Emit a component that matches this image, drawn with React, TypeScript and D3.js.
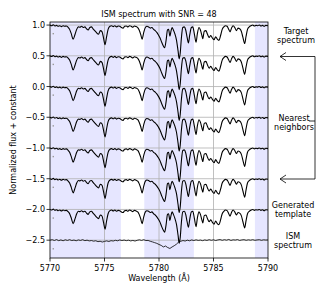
import * as d3 from 'd3';

// stellar profile knots: [wavelength, flux relative to continuum]
const starProfile: [number, number][] = [
  [5770.0, 0.0], [5770.15, -0.01], [5770.3, 0.005], [5770.45, -0.015], [5770.6, -0.005],
  [5770.75, -0.02], [5770.9, -0.01], [5771.05, -0.025], [5771.2, -0.01], [5771.35, -0.02],
  [5771.5, -0.015], [5771.65, -0.035], [5771.8, -0.07], [5771.95, -0.14], [5772.12, -0.23],
  [5772.3, -0.15], [5772.45, -0.07], [5772.6, -0.03], [5772.75, -0.035], [5772.9, -0.02],
  [5773.05, -0.04], [5773.2, -0.03], [5773.35, -0.06], [5773.5, -0.08], [5773.65, -0.04],
  [5773.8, -0.03], [5773.95, -0.06], [5774.1, -0.09], [5774.25, -0.12], [5774.45, -0.15],
  [5774.62, -0.09], [5774.78, -0.11], [5774.92, -0.22], [5775.05, -0.32], [5775.18, -0.2],
  [5775.33, -0.07], [5775.5, -0.02], [5775.65, -0.01], [5775.8, -0.025], [5775.95, -0.01],
  [5776.1, -0.03], [5776.25, -0.015], [5776.4, -0.02], [5776.55, -0.04], [5776.7, -0.05],
  [5776.85, -0.02], [5777.0, -0.015], [5777.15, -0.03], [5777.3, -0.01], [5777.45, -0.02],
  [5777.6, -0.035], [5777.75, -0.015], [5777.9, -0.025], [5778.05, -0.04], [5778.18, -0.08],
  [5778.32, -0.15], [5778.45, -0.23], [5778.6, -0.12], [5778.75, -0.04], [5778.9, -0.02],
  [5779.05, -0.03], [5779.2, -0.05], [5779.35, -0.04], [5779.5, -0.07], [5779.65, -0.09],
  [5779.8, -0.12], [5779.95, -0.16], [5780.1, -0.21], [5780.25, -0.28], [5780.4, -0.34],
  [5780.52, -0.37], [5780.65, -0.25], [5780.78, -0.08], [5780.88, -0.07], [5781.0, -0.18],
  [5781.1, -0.1], [5781.2, -0.04], [5781.32, -0.08], [5781.45, -0.14], [5781.6, -0.24],
  [5781.75, -0.42], [5781.85, -0.55], [5781.95, -0.45], [5782.05, -0.22], [5782.18, -0.04],
  [5782.32, -0.03], [5782.45, -0.08], [5782.58, -0.2], [5782.7, -0.29], [5782.82, -0.16],
  [5782.97, -0.04], [5783.1, -0.03], [5783.25, -0.15], [5783.4, -0.28], [5783.52, -0.14],
  [5783.67, -0.04], [5783.8, -0.08], [5783.92, -0.16], [5784.02, -0.22], [5784.15, -0.1],
  [5784.3, -0.09], [5784.45, -0.15], [5784.6, -0.2], [5784.75, -0.17], [5784.9, -0.21],
  [5785.05, -0.24], [5785.2, -0.19], [5785.35, -0.23], [5785.5, -0.25], [5785.65, -0.17],
  [5785.8, -0.07], [5785.95, -0.03], [5786.1, -0.01], [5786.25, -0.02], [5786.4, -0.07],
  [5786.52, -0.11], [5786.65, -0.05], [5786.8, -0.01], [5786.95, -0.04], [5787.1, -0.09],
  [5787.25, -0.05], [5787.4, -0.06], [5787.55, -0.1], [5787.7, -0.2], [5787.86, -0.3],
  [5787.98, -0.19], [5788.12, -0.07], [5788.28, -0.03], [5788.45, -0.01], [5788.6, 0.0],
  [5788.75, -0.015], [5788.9, -0.005], [5789.05, -0.01], [5789.2, 0.0], [5789.35, -0.015],
  [5789.5, -0.005], [5789.65, -0.02], [5789.8, -0.005], [5790.0, -0.01],
];

// ISM spectrum, 0.2 Å grid from 5770 to 5790
const ismFlux = [
  0.0, 0.008, -0.005, 0.01, -0.008, 0.004, -0.01, 0.006, -0.004, 0.008,
  -0.006, 0.002, -0.01, 0.004, -0.004, 0.008, -0.008, 0.0, -0.012, -0.006,
  -0.016, -0.01, -0.024, -0.018, -0.03, -0.02, -0.012, -0.022, -0.008, -0.014,
  -0.002, -0.01, 0.004, -0.006, 0.002, -0.008, 0.0, -0.012, -0.004, -0.014,
  -0.002, 0.006, -0.004, 0.008, -0.006, -0.004, -0.018, -0.028, -0.04, -0.052,
  -0.07, -0.085, -0.11, -0.095, -0.12, -0.135, -0.11, -0.09, -0.065, -0.03,
  -0.018, -0.006, -0.014, 0.0, -0.01, 0.004, -0.006, 0.006, -0.004, 0.002,
  -0.008, 0.004, -0.004, 0.008, -0.002, 0.006, -0.006, 0.004, 0.01, -0.002,
  0.008, 0.0, 0.012, -0.004, 0.006, 0.002, 0.01, -0.004, 0.004, 0.008,
  -0.002, 0.006, 0.0, 0.008, -0.002, 0.004, 0.008, -0.002, 0.006, 0.002,
  0.004,
];

const rowOffsets = [1.0, 0.5, 0.0, -0.5, -1.0, -1.5, -2.0];
const ismOffset = -2.5;
const shadeBands: [number, number][] = [[5770, 5776.5], [5778.65, 5783.2], [5788.8, 5790]];
const xTicks = [5770, 5775, 5780, 5785, 5790];
const yTicks = [1.0, 0.5, 0.0, -0.5, -1.0, -1.5, -2.0, -2.5];

const W = 325, H = 299;
const m = { left: 50, right: 57, top: 22, bottom: 41 };
const font = 'DejaVu Sans';

export default function App() {
  const x = d3.scaleLinear().domain([5770, 5790]).range([m.left, W - m.right]);
  const y = d3.scaleLinear().domain([-2.79, 1.05]).range([H - m.bottom, m.top]);
  const [x0, x1] = x.range();
  const [y0, y1] = y.range();

  const starLine = (off: number) =>
    d3.line<[number, number]>()
      .x(d => x(d[0]))
      .y(d => y(d[1] + off))
      .curve(d3.curveMonotoneX)(starProfile) || '';

  const ismLine = d3.line<number>()
    .x((_, i) => x(5770 + i * 0.2))
    .y(d => y(d + ismOffset))(ismFlux) || '';

  const fmt = (v: number) => v.toFixed(1).replace('-', '\u2212');

  const rightLabels = [
    { lines: ['Target', 'spectrum'], cx: 296, cy: 31 },
    { lines: ['Nearest', 'neighbors'], cx: 294, cy: 118 },
    { lines: ['Generated', 'template'], cx: 293, cy: 205 },
    { lines: ['ISM', 'spectrum'], cx: 293, cy: 236 },
  ];

  const arrowY = [56.5, 179];
  const bx = 315;

  return (
    <svg width={W} height={H} style={{ position: 'absolute', left: 0, top: 0 }} fontFamily={font}>
      <defs>
        <clipPath id="plot">
          <rect x={x0} y={y1} width={x1 - x0} height={y0 - y1} />
        </clipPath>
      </defs>
      <rect width={W} height={H} fill="white" />
      {shadeBands.map(([a, b], i) => (
        <rect key={i} x={x(a)} y={y1} width={x(b) - x(a)} height={y0 - y1} fill="#e6e6ff" />
      ))}
      {xTicks.slice(1, -1).map(t => (
        <line key={t} x1={x(t)} x2={x(t)} y1={y1} y2={y0} stroke="#b0b0b0" strokeWidth={0.8} />
      ))}
      {yTicks.map(t => (
        <line key={t} x1={x0} x2={x1} y1={y(t)} y2={y(t)} stroke="#b0b0b0" strokeWidth={0.8} />
      ))}
      <g clipPath="url(#plot)">
        {rowOffsets.map(off => (
          <path key={off} d={starLine(off)} fill="none" stroke="black" strokeWidth={1.1} />
        ))}
        <path d={ismLine} fill="none" stroke="black" strokeWidth={0.8} />
        {[...rowOffsets, ismOffset].map(off => (
          <rect key={off} x={x(5770.3) - 0.7} y={y(off - 0.14) - 0.7} width={1.4} height={1.4} fill="#999" />
        ))}
      </g>
      <rect x={x0} y={y1} width={x1 - x0} height={y0 - y1} fill="none" stroke="black" strokeWidth={0.8} />
      {xTicks.map(t => (
        <g key={t}>
          <line x1={x(t)} x2={x(t)} y1={y0} y2={y0 + 3.5} stroke="black" strokeWidth={0.8} />
          <text x={x(t)} y={y0 + 12.5} fontSize={8} textAnchor="middle">{t}</text>
        </g>
      ))}
      {yTicks.map(t => (
        <g key={t}>
          <line x1={x0 - 3.5} x2={x0} y1={y(t)} y2={y(t)} stroke="black" strokeWidth={0.8} />
          <text x={x0 - 5} y={y(t) + 3} fontSize={8} textAnchor="end">{fmt(t)}</text>
        </g>
      ))}
      <text x={(x0 + x1) / 2} y={16.5} fontSize={8} textAnchor="middle">ISM spectrum with SNR = 48</text>
      <text x={(x0 + x1) / 2} y={281} fontSize={8} textAnchor="middle">Wavelength (Å)</text>
      <text transform={`translate(15.5,${(y0 + y1) / 2}) rotate(-90)`} fontSize={8} textAnchor="middle">
        Normalized flux + constant
      </text>
      {rightLabels.map((l, i) => (
        <text key={i} fontSize={8} textAnchor="middle">
          {l.lines.map((s, j) => (
            <tspan key={j} x={l.cx} y={l.cy + 3 + j * 8.8}>{s}</tspan>
          ))}
        </text>
      ))}
      <g fill="none" stroke="black" strokeWidth={0.8}>
        <line x1={bx} x2={bx} y1={arrowY[0]} y2={arrowY[1]} />
        <line x1={309} x2={bx} y1={121} y2={121} />
        {arrowY.map(ay => (
          <g key={ay}>
            <line x1={bx} x2={280} y1={ay} y2={ay} />
            <path d={`M${286},${ay - 4} L280,${ay} L${286},${ay + 4}`} />
          </g>
        ))}
      </g>
    </svg>
  );
}
